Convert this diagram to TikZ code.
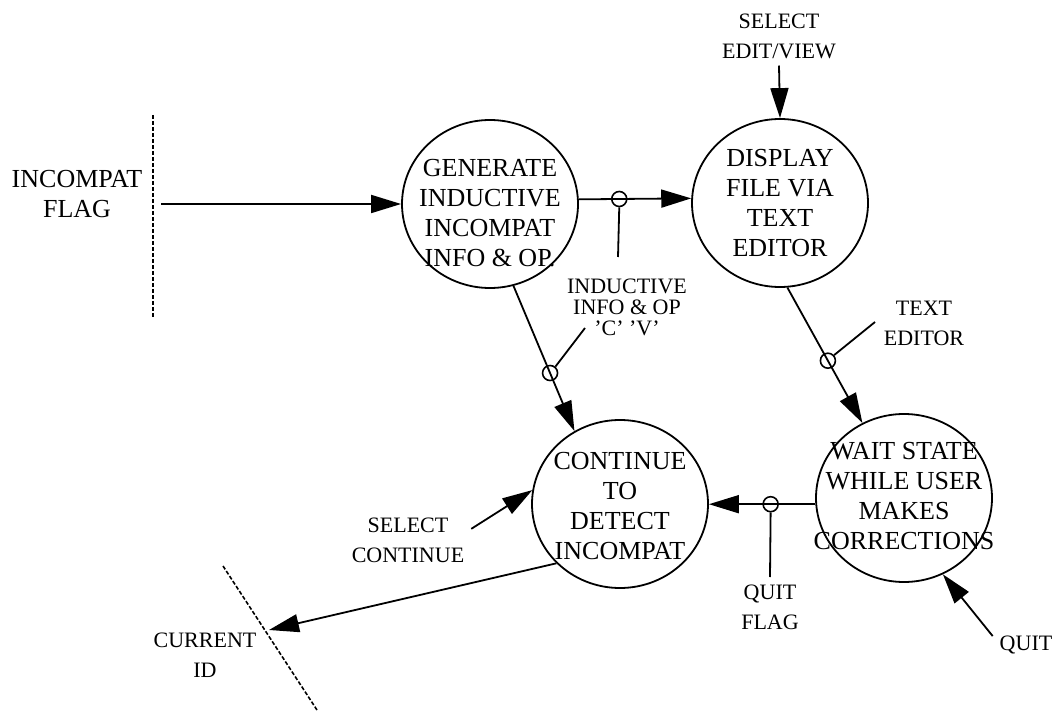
\documentclass[tikz,border=0pt]{standalone}
\usepackage{fontspec}
\setmainfont{Liberation Serif}
\usetikzlibrary{arrows.meta,shapes.geometric,positioning,calc}

\begin{document}
\begin{tikzpicture}[x=0.5pt,y=-0.5pt,
    bubble/.style={ellipse,draw,line width=0.9pt,minimum width=88pt,minimum height=84pt,inner sep=0pt},
    btext/.style={align=center,font=\fontsize{13}{15}\selectfont},
    lbl/.style={align=center,font=\fontsize{11}{15}\selectfont},
    flow/.style={line width=0.9pt,-{Triangle[length=15pt,width=9pt]}},
    tap/.style={circle,draw,line width=0.8pt,inner sep=0pt,minimum width=7.5pt},
    pin/.style={line width=0.9pt},
    bound/.style={line width=0.8pt,dash pattern=on 2pt off 1pt}]
    \useasboundingbox (0,0) rectangle (1055,711);
    % processes
    \node[bubble](gen) at (490,204) {};
    \node[btext](gentxt) at (490,213) {GENERATE\\INDUCTIVE\\INCOMPAT\\INFO \& OP.};
    \node[bubble](disp) at (780,203) {};
    \node[btext](disptxt) at (disp) {DISPLAY\\FILE VIA\\TEXT\\EDITOR};
    \node[bubble](cont) at (620,504) {};
    \node[btext](conttxt) at (620,506) {CONTINUE\\TO\\DETECT\\INCOMPAT};
    \node[bubble](wait) at (904,498) {};
    \node[btext](waittxt) at (904,496) {WAIT STATE\\WHILE USER\\MAKES\\CORRECTIONS};
    % incoming flag
    \node[btext](flagin) at (77,194) {INCOMPAT\\FLAG};
    \coordinate (bnd1a) at (153,115);
    \coordinate (bnd1b) at (153,318);
    \draw[bound] (bnd1a) -- (bnd1b);
    \coordinate (flagsrc) at (161,204);
    \draw[flow] (flagsrc) -- (gen.west);
    % edit/view
    \node[lbl](selev) at (779,36) {SELECT\\EDIT/VIEW};
    \draw[flow] (selev.south) -- (disp.north);
    \draw[flow] (gen.3) -- node[tap,pos=0.36](t1){} (disp.177);
    \coordinate (p1) at (618,257);
    \draw[pin] (t1.south) -- (p1);
    \node[lbl,font=\fontsize{11}{10.5}\selectfont](indinfo) at (627,307) {INDUCTIVE\\INFO \& OP\\'C' 'V'};
    \draw[flow] (gen.-74) -- node[tap,pos=0.6](t2){} (cont.122);
    \coordinate (p2) at (585,328);
    \draw[pin] (t2.50) -- (p2);
    % text editor
    \draw[flow] (disp.-85) -- node[tap,pos=0.54](t3){} (wait.119);
    \coordinate (p3) at (875,322);
    \draw[pin] (t3.42) -- (p3);
    \node[lbl](txted) at (924,323) {TEXT\\EDITOR};
    % quit
    \draw[flow] (wait.184) -- node[tap,pos=0.42](t4){} (wait.184 -| cont.east);
    \coordinate (p4) at (770,577);
    \draw[pin] (t4.south) -- (p4);
    \node[lbl](qflag) at (770,607) {QUIT\\FLAG};
    \node[lbl](quit) at (1026,645) {QUIT};
    \draw[flow] (quit.165) -- (wait.-63);
    % continue
    \node[lbl](selcont) at (408,540) {SELECT\\CONTINUE};
    \draw[flow] (selcont.10) -- (cont.171);
    \node[lbl](curid) at (205,655) {CURRENT\\ID};
    \coordinate (bnd2a) at (223,566);
    \coordinate (bnd2b) at (317,710);
    \draw[bound] (bnd2a) -- (bnd2b);
    \coordinate (idsink) at (269,630);
    \draw[flow] (cont.223) -- (idsink);
\end{tikzpicture}
\end{document}
